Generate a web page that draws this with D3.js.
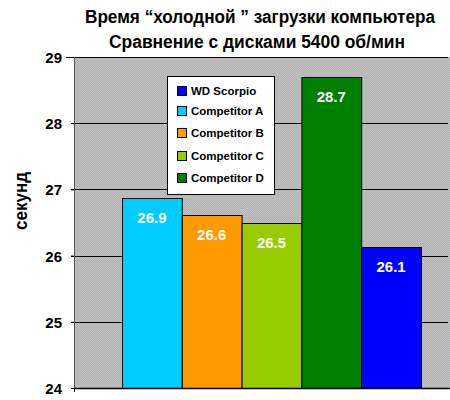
<!DOCTYPE html>
<html>
<head>
<meta charset="utf-8">
<script src="https://cdn.jsdelivr.net/npm/d3@7"></script>
<style>
  body { margin: 0; background: #fff; }
  text { font-family: "Liberation Sans", Arial, sans-serif; font-weight: bold; }
</style>
</head>
<body>
<div id="chart"></div>
<script>
// data
var barNames = ["Competitor A", "Competitor B", "Competitor C", "Competitor D", "WD Scorpio"];
var barValues = [26.87, 26.61, 26.49, 28.7, 26.13];
var barLabels = ["26.9", "26.6", "26.5", "28.7", "26.1"];
var barColors = ["#00ccff", "#ff9900", "#99cc00", "#008000", "#0000ff"];
var legendOrder = ["WD Scorpio", "Competitor A", "Competitor B", "Competitor C", "Competitor D"];
var yTicks = [24, 25, 26, 27, 28, 29];
var titleLines = ["Время “холодной ” загрузки компьютера", "Сравнение с дисками 5400 об/мин"];
var titleWidths = [350, 296];

var svg = d3.select("#chart").append("svg")
            .attr("width", 450)
            .attr("height", 400);

var margin = {top: 57, right: 0, bottom: 12, left: 74},
    width = svg.attr("width") - margin.left - margin.right,
    height = svg.attr("height") - margin.top - margin.bottom;

// dithered grey plot background
var defs = svg.append("defs");
var pat = defs.append("pattern").attr("id", "dither")
  .attr("width", 2).attr("height", 2).attr("patternUnits", "userSpaceOnUse");
pat.append("rect").attr("width", 2).attr("height", 2).attr("fill", "#c0c0c0");
pat.append("rect").attr("width", 1).attr("height", 1).attr("fill", "#b4b4b4");
pat.append("rect").attr("x", 1).attr("y", 1).attr("width", 1).attr("height", 1).attr("fill", "#b4b4b4");

var g = svg.append("g").attr("transform", "translate(" + margin.left + "," + margin.top + ")");

var y = d3.scaleLinear().domain([24, 29]).range([height, 0]);
var x = d3.scaleBand().domain(barNames).range([48, 347]).padding(0);
var color = d3.scaleOrdinal().domain(barNames).range(barColors);

g.append("rect")
  .attr("width", width)
  .attr("height", height)
  .attr("fill", "url(#dither)");

// gridlines
g.selectAll("line.grid")
  .data(yTicks.filter(function(d) { return d > 24; }))
  .enter().append("line")
  .attr("class", "grid")
  .attr("x1", -3).attr("x2", width - 2)
  .attr("y1", function(d) { return Math.round(y(d)) + 0.5; })
  .attr("y2", function(d) { return Math.round(y(d)) + 0.5; })
  .attr("stroke", "#000");

// y axis
var yAxis = g.append("g")
  .call(d3.axisLeft(y).tickValues(yTicks).tickSize(3).tickPadding(9).tickFormat(d3.format("d")));
yAxis.select(".domain").attr("stroke", "#555").attr("d", "M0.5,0V" + height);
yAxis.selectAll("text").style("font-size", "15px").attr("fill", "#000").attr("dy", "0.36em");
yAxis.selectAll(".tick line").attr("stroke", "#000");

// bars
g.selectAll("rect.bar")
  .data(barValues)
  .enter().append("rect")
  .attr("class", "bar")
  .attr("x", function(d, i) { return x(barNames[i]) + 0.5; })
  .attr("y", function(d) { return Math.round(y(d)) + 0.5; })
  .attr("width", x.bandwidth())
  .attr("height", function(d) { return height - Math.round(y(d)); })
  .attr("fill", function(d, i) { return color(barNames[i]); })
  .attr("stroke", "#000")
  .attr("stroke-width", 1);

g.selectAll("text.val")
  .data(barValues)
  .enter().append("text")
  .attr("class", "val")
  .attr("x", function(d, i) { return x(barNames[i]) + x.bandwidth() / 2; })
  .attr("y", function(d) { return y(d) + 25; })
  .attr("text-anchor", "middle")
  .attr("fill", "#fff")
  .style("font-size", "15px")
  .text(function(d, i) { return barLabels[i]; });

// x axis line
g.append("line")
  .attr("x1", 0).attr("x2", width)
  .attr("y1", height + 0.5).attr("y2", height + 0.5)
  .attr("stroke", "#000").attr("stroke-width", 1.5);
g.append("line")
  .attr("x1", 0.5).attr("x2", 0.5)
  .attr("y1", height).attr("y2", height + 4)
  .attr("stroke", "#000");

// longer tick at 29
g.append("line")
  .attr("x1", -8).attr("x2", 0)
  .attr("y1", 0.5).attr("y2", 0.5)
  .attr("stroke", "#000");

// legend
var legend = g.append("g").attr("transform", "translate(93,19)");
legend.append("rect")
  .attr("x", 0.5).attr("y", 0.5)
  .attr("width", 107).attr("height", 118)
  .attr("fill", "#fff").attr("stroke", "#000");
var item = legend.selectAll("g.item")
  .data(legendOrder)
  .enter().append("g")
  .attr("class", "item")
  .attr("transform", function(d, i) { return "translate(10," + [19, 39, 61, 84, 106][i] + ")"; });
item.append("rect")
  .attr("x", 0.5).attr("y", -8.5)
  .attr("width", 9).attr("height", 9)
  .attr("fill", function(d) { return color(d); })
  .attr("stroke", "#000");
item.append("text")
  .attr("x", 14).attr("y", 0)
  .style("font-size", "11.5px")
  .text(function(d) { return d; });

// title
svg.selectAll("text.title")
  .data(titleLines)
  .enter().append("text")
  .attr("class", "title")
  .attr("transform", function(d, i) {
    return "translate(" + [260, 257][i] + "," + (23 + i * 25) + ") scale(1,1.1)";
  })
  .attr("text-anchor", "middle")
  .attr("textLength", function(d, i) { return titleWidths[i]; })
  .attr("lengthAdjust", "spacingAndGlyphs")
  .style("font-size", "17.5px")
  .text(function(d) { return d; });

// y label
svg.append("text")
  .attr("transform", "translate(27,201) rotate(-90)")
  .attr("text-anchor", "middle")
  .attr("textLength", 58)
  .attr("lengthAdjust", "spacingAndGlyphs")
  .style("font-size", "19px")
  .text("секунд");
</script>
</body>
</html>
